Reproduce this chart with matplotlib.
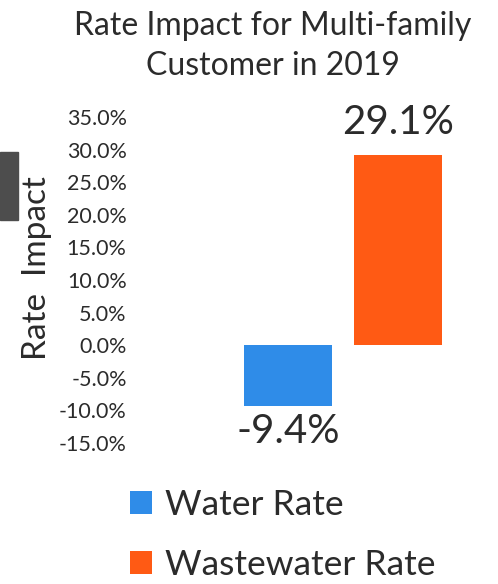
import matplotlib.pyplot as plt
from matplotlib.patches import Rectangle

# Chart data
series = ['Water Rate', 'Wastewater Rate']
impact = [-9.4, 29.1]
colors = ['#2F8CE8', '#FF5A14']
yticks = [-15, -10, -5, 0, 5, 10, 15, 20, 25, 30, 35]

plt.rcParams['font.family'] = ['Lato', 'DejaVu Sans']
text_color = '#2b2b2b'

fig = plt.figure(figsize=(4.98, 5.84), dpi=100)
ax = fig.add_axes([135 / 498, 1 - 443 / 584, (498 - 135) / 498, 326 / 584])

bars = ax.bar(range(len(series)), impact, width=0.8, color=colors, label=series)

ax.set_ylim(-15, 35)
ax.set_xlim(-1.39, 1.91)
ax.set_yticks(yticks)
ax.set_yticklabels([f'{v:.1f}%' for v in yticks], fontsize=15.5, color=text_color)
ax.set_xticks([])
ax.tick_params(axis='y', length=0, pad=6)
for s in ax.spines.values():
    s.set_visible(False)

# data labels
for b, v in zip(bars, impact):
    off = 24 if v > 0 else -18
    ax.annotate(f'{v:.1f}%', (b.get_x() + b.get_width() / 2, v),
                xytext=(0, off), textcoords='offset points',
                ha='center', va='center', fontsize=29, color=text_color)

fig.text(37 / 498, 1 - 268 / 584, 'Rate  Impact', rotation=90, ha='center', va='center',
         fontsize=24, color=text_color)

fig.text(273 / 498, 1 - 46 / 584, 'Rate Impact for Multi-family\nCustomer in 2019',
         ha='center', va='center', fontsize=23, color=text_color, linespacing=1.45)

leg = fig.legend(handles=list(bars), labels=series, loc='upper left',
                 bbox_to_anchor=(116 / 498, 1 - 475 / 584), frameon=False,
                 fontsize=25.5, handlelength=0.62, handleheight=0.62,
                 handletextpad=0.37, labelspacing=0.78, borderaxespad=0)
for t in leg.get_texts():
    t.set_color(text_color)

# dark block on the left edge of the slide
fig.patches.append(Rectangle((0, 1 - 220 / 584), 18 / 498, 68 / 584,
                             transform=fig.transFigure, color='#4d4d4d'))

fig.savefig('out.png', dpi=100)
